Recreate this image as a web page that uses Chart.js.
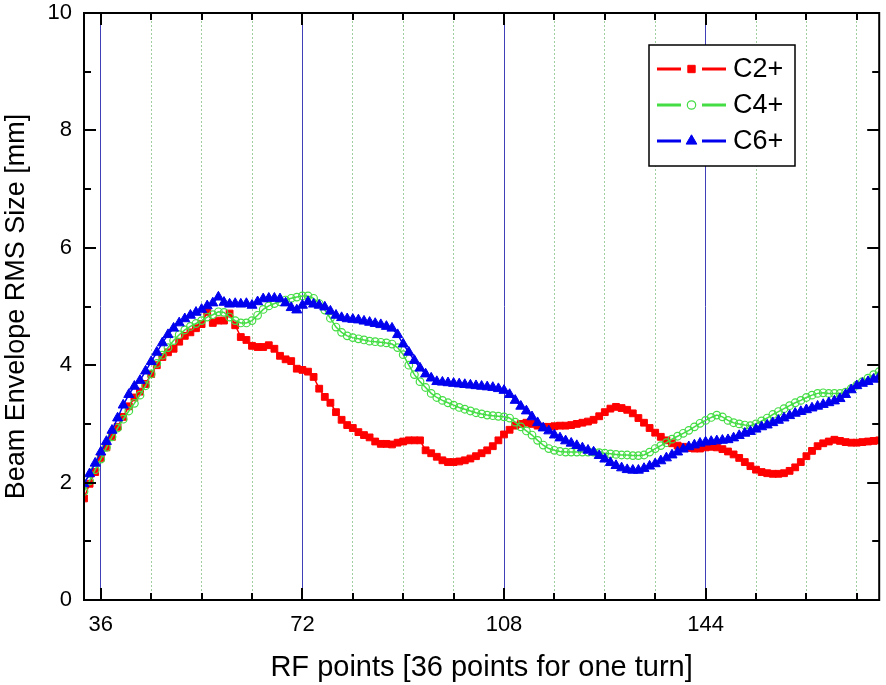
<!DOCTYPE html>
<html>
<head>
<meta charset="utf-8">
<script src="https://cdn.jsdelivr.net/npm/chart.js@4.4.1/dist/chart.umd.min.js"></script>
<style>
html,body{margin:0;padding:0;background:#fff;}
#wrap{width:886px;height:685px;}
</style>
</head>
<body>
<div id="wrap"><canvas id="c" width="886" height="685"></canvas></div>
<script>
// ---- data ----
const xStart = 33; // first RF point
const seriesNames = ['C2+', 'C4+', 'C6+'];
const majorTicksX = [36, 72, 108, 144];
const minorTicksX = [45, 54, 63, 81, 90, 99, 117, 126, 135, 153, 162, 171];
const ticksY = [0, 2, 4, 6, 8, 10];

const c2 = [1.73,1.98,2.18,2.42,2.60,2.78,2.95,3.12,3.30,3.45,3.55,3.68,3.85,4.00,4.14,4.22,4.28,4.40,4.50,4.56,4.63,4.70,4.91,4.72,4.76,4.76,4.88,4.68,4.48,4.43,4.33,4.31,4.31,4.34,4.28,4.16,4.10,4.07,3.94,3.92,3.89,3.80,3.60,3.46,3.36,3.20,3.07,2.98,2.93,2.86,2.81,2.77,2.70,2.66,2.66,2.65,2.68,2.70,2.72,2.72,2.72,2.55,2.50,2.44,2.38,2.35,2.35,2.36,2.38,2.41,2.45,2.50,2.55,2.62,2.72,2.82,2.90,2.97,3.00,3.02,3.00,2.97,2.95,2.95,2.96,2.97,2.97,2.98,3.00,3.02,3.04,3.07,3.13,3.20,3.26,3.29,3.27,3.24,3.18,3.10,3.02,2.93,2.85,2.78,2.72,2.67,2.63,2.61,2.59,2.58,2.58,2.60,2.61,2.60,2.57,2.53,2.48,2.42,2.35,2.28,2.22,2.18,2.16,2.15,2.15,2.16,2.20,2.26,2.35,2.45,2.54,2.62,2.67,2.70,2.73,2.71,2.69,2.68,2.68,2.69,2.70,2.71,2.72];
const c4 = [1.85,2.03,2.22,2.40,2.60,2.78,2.93,3.08,3.22,3.35,3.49,3.65,3.85,4.03,4.17,4.30,4.42,4.52,4.60,4.66,4.71,4.76,4.82,4.86,4.91,4.90,4.82,4.76,4.72,4.72,4.76,4.85,4.95,5.01,5.05,5.08,5.11,5.14,5.16,5.18,5.18,5.14,5.05,4.94,4.80,4.65,4.56,4.50,4.47,4.45,4.43,4.41,4.40,4.39,4.38,4.36,4.30,4.18,4.00,3.84,3.72,3.62,3.52,3.45,3.40,3.36,3.32,3.28,3.25,3.22,3.19,3.17,3.15,3.14,3.13,3.12,3.10,3.03,2.95,2.88,2.81,2.72,2.64,2.58,2.55,2.53,2.52,2.52,2.52,2.52,2.52,2.52,2.51,2.50,2.49,2.48,2.47,2.47,2.46,2.46,2.47,2.52,2.58,2.63,2.68,2.74,2.79,2.84,2.89,2.95,3.01,3.06,3.11,3.15,3.12,3.06,3.02,3.00,2.98,2.97,3.00,3.05,3.10,3.16,3.21,3.26,3.31,3.36,3.40,3.45,3.49,3.52,3.53,3.52,3.52,3.52,3.54,3.60,3.66,3.72,3.78,3.84,3.89];
const c6 = [1.98,2.15,2.33,2.52,2.70,2.89,3.10,3.32,3.50,3.64,3.74,3.90,4.06,4.22,4.38,4.52,4.63,4.72,4.79,4.85,4.90,4.95,5.01,5.06,5.16,5.07,5.04,5.05,5.04,5.05,5.02,5.08,5.13,5.14,5.14,5.13,5.06,4.98,4.94,5.02,5.08,5.04,5.02,4.99,4.92,4.85,4.81,4.79,4.78,4.77,4.75,4.73,4.71,4.69,4.66,4.63,4.52,4.36,4.22,4.08,3.95,3.85,3.78,3.72,3.71,3.70,3.69,3.68,3.67,3.66,3.65,3.64,3.63,3.62,3.60,3.57,3.50,3.40,3.30,3.22,3.12,3.02,2.93,2.88,2.81,2.76,2.71,2.67,2.63,2.59,2.55,2.52,2.46,2.40,2.34,2.29,2.25,2.22,2.21,2.21,2.24,2.28,2.32,2.37,2.42,2.47,2.52,2.57,2.61,2.64,2.67,2.69,2.70,2.71,2.72,2.73,2.76,2.80,2.84,2.87,2.91,2.95,2.98,3.02,3.06,3.10,3.14,3.18,3.21,3.24,3.27,3.30,3.33,3.36,3.39,3.43,3.50,3.58,3.65,3.69,3.72,3.76,3.80];

const xAxisTitle = 'RF points [36 points for one turn]';
const yAxisTitle = 'Beam Envelope RMS Size [mm]';

// ---- styling ----
const FONT = '"Liberation Sans", Arial, Helvetica, sans-serif';
const RED = '#ff0000', GREEN = '#44dd44', BLUE = '#0000ee';

function toPoints(arr) { return arr.map((v, i) => ({ x: xStart + i, y: v })); }

const styles = [
  { color: RED, pointStyle: 'rect', radius: 4.8, fill: RED, bw: 1 },
  { color: GREEN, pointStyle: 'circle', radius: 3.8, fill: 'rgba(255,255,255,0)', bw: 1.2 },
  { color: BLUE, pointStyle: 'triangle', radius: 5.8, fill: BLUE, bw: 1 }
];
const seriesData = [c2, c4, c6];

const datasets = seriesData.map((arr, i) => ({
  label: seriesNames[i],
  data: toPoints(arr),
  xAxisID: 'x',
  yAxisID: 'y',
  borderColor: styles[i].color,
  backgroundColor: styles[i].fill,
  borderWidth: 1.5,
  pointStyle: styles[i].pointStyle,
  pointRadius: styles[i].radius,
  pointBackgroundColor: styles[i].fill,
  pointBorderColor: styles[i].color,
  pointBorderWidth: styles[i].bw,
  tension: 0,
  order: 2 - i
}));

const frameTicks = {
  id: 'frameTicks',
  afterDatasetsDraw(chart) {
    const { ctx, chartArea: a, scales } = chart;
    const xs = scales.x, ys = scales.y;
    ctx.save();
    ctx.strokeStyle = '#000';
    ctx.lineWidth = 2;
    ctx.lineCap = 'butt';
    ctx.beginPath();
    const majL = 12, minL = 7;
    majorTicksX.forEach(v => {
      const p = Math.round(xs.getPixelForValue(v)) ;
      ctx.moveTo(p, a.bottom); ctx.lineTo(p, a.bottom - majL);
      ctx.moveTo(p, a.top); ctx.lineTo(p, a.top + majL);
    });
    minorTicksX.forEach(v => {
      const p = Math.round(xs.getPixelForValue(v));
      ctx.moveTo(p, a.bottom); ctx.lineTo(p, a.bottom - minL);
      ctx.moveTo(p, a.top); ctx.lineTo(p, a.top + minL);
    });
    for (let v = 0; v <= 10; v++) {
      const p = Math.round(ys.getPixelForValue(v));
      const L = v % 2 === 0 ? majL : minL;
      ctx.moveTo(a.left, p); ctx.lineTo(a.left + L, p);
      ctx.moveTo(a.right, p); ctx.lineTo(a.right - L, p);
    }
    ctx.stroke();
    ctx.lineWidth = 2;
    ctx.strokeRect(a.left, a.top, a.right - a.left, a.bottom - a.top);
    ctx.restore();
  }
};

const boxLegend = {
  id: 'boxLegend',
  afterDraw(chart) {
    const ctx = chart.ctx;
    const bx = 649, by = 45, bw = 146, bh = 121;
    ctx.save();
    ctx.fillStyle = '#fff';
    ctx.fillRect(bx, by, bw, bh);
    ctx.strokeStyle = '#000';
    ctx.lineWidth = 1.5;
    ctx.strokeRect(bx, by, bw, bh);
    const rows = [69, 105, 141];
    rows.forEach((ry, i) => {
      const s = styles[i];
      ctx.strokeStyle = s.color;
      ctx.lineWidth = 3;
      ctx.beginPath();
      ctx.moveTo(657, ry); ctx.lineTo(681, ry);
      ctx.moveTo(702, ry); ctx.lineTo(726, ry);
      ctx.stroke();
      ctx.fillStyle = s.fill;
      ctx.strokeStyle = s.color;
      ctx.lineWidth = s.bw;
      Chart.helpers.drawPoint(ctx, { pointStyle: s.pointStyle, radius: s.radius + 0.4, borderWidth: s.bw, rotation: 0 }, 691.5, ry);
      ctx.fillStyle = '#000';
      ctx.font = '27px ' + FONT;
      ctx.textAlign = 'left';
      ctx.textBaseline = 'middle';
      ctx.fillText(seriesNames[i], 733, ry + 1);
    });
    ctx.restore();
  }
};

function noPad(s) { s.paddingTop = 0; s.paddingBottom = 0; s.paddingLeft = 0; s.paddingRight = 0; }

new Chart(document.getElementById('c'), {
  type: 'line',
  data: { datasets },
  options: {
    responsive: false,
    devicePixelRatio: 1,
    animation: false,
    layout: { padding: { top: 13, right: 3, left: 0, bottom: 0 } },
    plugins: { legend: { display: false }, tooltip: { enabled: false } },
    scales: {
      x: {
        type: 'linear', position: 'bottom', min: 33, max: 175,
        afterBuildTicks: s => { s.ticks = majorTicksX.map(v => ({ value: v })); },
        ticks: { color: '#000', font: { family: FONT, size: 22 }, padding: 12, maxRotation: 0,
                 callback: v => String(v) },
        grid: { color: '#4040b8', lineWidth: 1, drawTicks: false },
        border: { display: false },
        title: { display: true, text: xAxisTitle, color: '#000', font: { family: FONT, size: 29 }, padding: { top: 8, bottom: 0 } },
        afterFit: s => { s.height = 85; noPad(s); }
      },
      x2: {
        type: 'linear', position: 'bottom', min: 33, max: 175,
        afterBuildTicks: s => { s.ticks = minorTicksX.map(v => ({ value: v })); },
        ticks: { display: false },
        grid: { color: '#9fcf9f', lineWidth: 1, drawTicks: false },
        border: { display: false, dash: [2, 2] },
        afterFit: s => { s.height = 0; noPad(s); }
      },
      y: {
        type: 'linear', min: 0, max: 10,
        afterBuildTicks: s => { s.ticks = ticksY.map(v => ({ value: v })); },
        ticks: { color: '#000', font: { family: FONT, size: 22 }, padding: 12 },
        grid: { display: false, drawTicks: false },
        border: { display: false },
        title: { display: true, text: yAxisTitle, color: '#000', font: { family: FONT, size: 27 }, padding: { top: 0, bottom: 4 } },
        afterFit: s => { s.width = 84; noPad(s); }
      }
    }
  },
  plugins: [frameTicks, boxLegend]
});
</script>
</body>
</html>
